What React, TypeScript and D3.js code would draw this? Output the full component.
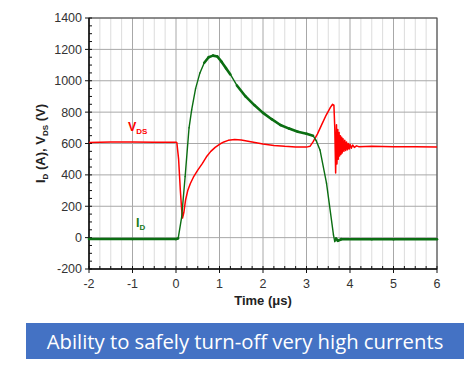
import React from 'react';
import * as d3 from 'd3';

// V_DS trace (red)
const vdsTime = [-2, -1.5, -1, -0.5, 0, 0.02, 0.06, 0.1, 0.13, 0.15, 0.18, 0.22, 0.27, 0.33, 0.4, 0.5, 0.6, 0.7, 0.8, 0.9, 1.0, 1.1, 1.2, 1.35, 1.5, 1.75, 2.0, 2.25, 2.5, 2.75, 3.0, 3.08, 3.15, 3.25, 3.35, 3.45, 3.55, 3.6, 3.63, 3.65, 3.67, 3.69, 3.7, 3.72, 3.73, 3.75, 3.76, 3.78, 3.79, 3.81, 3.82, 3.84, 3.86, 3.88, 3.9, 3.92, 3.94, 3.96, 3.98, 4.0, 4.03, 4.06, 4.1, 4.15, 4.2, 4.5, 5.0, 5.5, 6.0];
const vdsValues = [607, 609, 610, 608, 608, 605, 500, 300, 180, 125, 160, 240, 300, 345, 385, 430, 470, 515, 550, 575, 595, 610, 620, 625, 622, 610, 597, 588, 582, 578, 577, 582, 610, 660, 720, 780, 830, 850, 845, 700, 412, 720, 470, 690, 500, 670, 520, 650, 530, 640, 540, 630, 550, 620, 555, 610, 560, 600, 565, 595, 570, 590, 575, 585, 580, 582, 580, 579, 578];

// I_D trace (green)
const idTime = [-2, -1, 0, 0.05, 0.13, 0.21, 0.3, 0.36, 0.45, 0.55, 0.65, 0.75, 0.85, 0.95, 1.05, 1.15, 1.25, 1.4, 1.6, 1.8, 2.0, 2.2, 2.4, 2.6, 2.8, 3.0, 3.15, 3.22, 3.31, 3.46, 3.62, 3.65, 3.68, 3.72, 3.8, 4.5, 5.0, 6.0];
const idValues = [-9, -9, -9, -5, 130, 390, 700, 814, 950, 1050, 1115, 1150, 1160, 1155, 1120, 1080, 1040, 970, 900, 845, 795, 755, 718, 695, 675, 662, 650, 620, 559, 348, 17, -25, -5, -20, -10, -10, -10, -10];

const xTicks = [-2, -1, 0, 1, 2, 3, 4, 5, 6];
const yTicks = [-200, 0, 200, 400, 600, 800, 1000, 1200, 1400];

const M = { left: 89, right: 437, top: 18, bottom: 269 };

export default function App() {
  const x = d3.scaleLinear().domain([-2, 6]).range([M.left, M.right]);
  const y = d3.scaleLinear().domain([-200, 1400]).range([M.bottom, M.top]);

  const vds = vdsTime.map((t, i) => [t, vdsValues[i]] as [number, number]);
  const id = idTime.map((t, i) => [t, idValues[i]] as [number, number]);
  const line = d3.line<[number, number]>().x(d => x(d[0])).y(d => y(d[1]));

  const minorX = d3.range(-2, 6.001, 0.25);
  const minorY = d3.range(-200, 1400.001, 50);
  const tickFont = { fontFamily: 'Liberation Sans, Arial, sans-serif', fontSize: 12.5, fill: '#333' };

  // green segments: noisy (thicker) where the trace is flat
  const idSegs = id.slice(1).map((p, i) => {
    const a = id[i];
    const slope = Math.abs((y(p[1]) - y(a[1])) / (x(p[0]) - x(a[0])));
    return { a, b: p, w: slope > 1.5 ? 1.4 : 2.6 };
  });

  return (
    <svg width={475} height={371} style={{ position: 'absolute', left: 0, top: 0 }}>
      <rect width={475} height={371} fill="#fff" />
      {/* grid */}
      {minorX.map(t => (
        <line key={'gx' + t} x1={x(t)} x2={x(t)} y1={M.top} y2={M.bottom}
          stroke={Number.isInteger(t) ? '#a8a8a8' : '#dcdcdc'} strokeWidth={1} />
      ))}
      {yTicks.map(v => (
        <line key={'gy' + v} x1={M.left} x2={M.right} y1={y(v)} y2={y(v)} stroke="#a8a8a8" strokeWidth={1} />
      ))}
      {/* frame */}
      <rect x={M.left} y={M.top} width={M.right - M.left} height={M.bottom - M.top} fill="none" stroke="#444" strokeWidth={1} />
      <line x1={M.left} x2={M.left} y1={M.top} y2={M.bottom} stroke="#111" strokeWidth={1.5} />
      <line x1={M.left} x2={M.right} y1={M.bottom} y2={M.bottom} stroke="#111" strokeWidth={1.5} />
      {/* minor ticks */}
      {minorY.map(v => (
        <line key={'my' + v} x1={M.left} x2={M.left + 3} y1={y(v)} y2={y(v)} stroke="#111" />
      ))}
      {minorX.map(t => (
        <line key={'mx' + t} x1={x(t)} x2={x(t)} y1={M.bottom} y2={M.bottom - 3} stroke="#111" />
      ))}
      {/* major ticks + labels */}
      {yTicks.map(v => (
        <g key={'ty' + v}>
          <line x1={M.left - 4} x2={M.left} y1={y(v)} y2={y(v)} stroke="#111" />
          <text x={M.left - 7} y={y(v)} dy="0.35em" textAnchor="end" {...tickFont}>{v}</text>
        </g>
      ))}
      {xTicks.map(t => (
        <g key={'tx' + t}>
          <line x1={x(t)} x2={x(t)} y1={M.bottom} y2={M.bottom + 4} stroke="#111" />
          <text x={x(t)} y={M.bottom + 19} textAnchor="middle" {...tickFont}>{t}</text>
        </g>
      ))}
      {/* axis titles */}
      <text x={(M.left + M.right) / 2} y={305} textAnchor="middle" fontFamily="Liberation Sans, Arial, sans-serif"
        fontWeight="bold" fontSize={13} fill="#222">Time (μs)</text>
      <text transform={`translate(45,${(M.top + M.bottom) / 2}) rotate(-90)`} textAnchor="middle"
        fontFamily="Liberation Sans, Arial, sans-serif" fontWeight="bold" fontSize={13} fill="#222">
        I<tspan fontSize={8} dy={3}>D</tspan><tspan dy={-3}> (A), V</tspan><tspan fontSize={8} dy={3}>DS</tspan><tspan dy={-3}> (V)</tspan>
      </text>
      {/* traces */}
      <path d={line(vds) || ''} fill="none" stroke="#ff0000" strokeWidth={1.5} strokeLinejoin="round" />
      {idSegs.map((s, i) => (
        <line key={'id' + i} x1={x(s.a[0])} y1={y(s.a[1])} x2={x(s.b[0])} y2={y(s.b[1])}
          stroke="#0b6e12" strokeWidth={s.w} strokeLinecap="round" />
      ))}
      {/* series labels */}
      <text x={128} y={131} fontFamily="Liberation Sans, Arial, sans-serif" fontWeight="bold" fontSize={12.5} fill="#ff0000">
        V<tspan fontSize={8} dy={3}>DS</tspan>
      </text>
      <text x={136} y={227} fontFamily="Liberation Sans, Arial, sans-serif" fontWeight="bold" fontSize={12.5} fill="#1b7a1b">
        I<tspan fontSize={8} dy={3}>D</tspan>
      </text>
      {/* banner */}
      <rect x={26} y={323} width={438} height={36} fill="#4472c4" />
      <text x={245} y={348.5} textAnchor="middle" fontFamily="Open Sans, Noto Sans, sans-serif" fontSize={20.3} fill="#fff">
        Ability to safely turn-off very high currents
      </text>
    </svg>
  );
}
